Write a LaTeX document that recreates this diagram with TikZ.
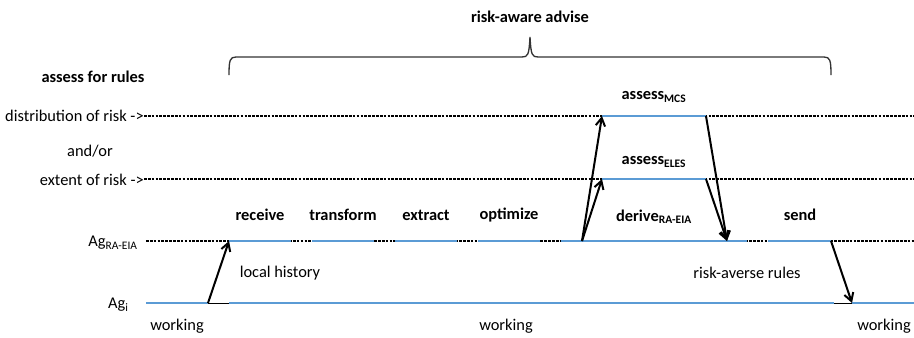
\documentclass[tikz,border=0pt]{standalone}
\usepackage{fontspec}
\setmainfont{Carlito}
\usetikzlibrary{arrows.meta}
\definecolor{lane}{HTML}{5B9BD5}
\begin{document}
\begin{tikzpicture}[x=0.75pt,y=-0.75pt,
  txt/.style={inner sep=0pt,font=\fontsize{12.3}{14}\selectfont},
  btxt/.style={txt,font=\fontsize{12.3}{14}\selectfont\bfseries},
  track/.style={line width=0.9pt,dash pattern=on 2pt off 0.9pt},
  seg/.style={lane,line width=2.2pt},
  link/.style={line width=0.75pt},
  flow/.style={line width=1.5pt,-{Straight Barb[length=6pt,width=7pt,line width=1.5pt]}},
  brace/.style={line width=1pt,black!80}]
\useasboundingbox (0,0) rectangle (914,337);

% row labels
\node[btxt] (title) at (530,17) {risk-aware advise};
\node[btxt] (rules) at (93,77) {assess for rules};
\node[txt,anchor=east] (dist) at (144,116) {distribution of risk ->};
\node[txt] (andor) at (90,151) {and/or};
\node[txt,anchor=east] (ext) at (144,180) {extent of risk ->};
\node[txt,anchor=east] (agra) at (138,243) {Ag\textsubscript{RA-EIA}};
\node[txt,anchor=east] (agi) at (129,305) {Ag\textsubscript{i}};

% tracks
\draw[track] (dist.east |- 0,116) -- (914,116);
\draw[track] (ext.east |- 0,179) -- (914,179);
\draw[track] (146,241) -- (914,241);

% process segments on the RA-EIA track
\coordinate (rcvA) at (229,241); \coordinate (rcvB) at (291,241);
\coordinate (trfA) at (312,241); \coordinate (trfB) at (374,241);
\coordinate (extA) at (395,241); \coordinate (extB) at (457,241);
\coordinate (optA) at (478,241); \coordinate (optB) at (540,241);
\coordinate (derA) at (561,241); \coordinate (derB) at (747,241);
\coordinate (sndA) at (768,241); \coordinate (sndB) at (831,241);
\foreach \a/\b in {rcvA/rcvB,trfA/trfB,extA/extB,optA/optB,derA/derB,sndA/sndB}
  \draw[seg] (\a) -- (\b);

% assessment segments
\coordinate (mcsA) at (602,116); \coordinate (mcsB) at (706,116);
\coordinate (elsA) at (602,179); \coordinate (elsB) at (706,179);
\draw[seg] (mcsA) -- (mcsB);
\draw[seg] (elsA) -- (elsB);

% agent track
\coordinate (ag0) at (146,303); \coordinate (ag1) at (208,303);
\coordinate (ag2) at (229,303); \coordinate (ag3) at (834,303);
\coordinate (ag4) at (852,303); \coordinate (ag5) at (914,303);
\draw[seg] (ag0) -- (ag1);
\draw[link] (ag1) -- (ag2);
\draw[seg] (ag2) -- (ag3);
\draw[link] (ag3) -- (ag4);
\draw[seg] (ag4) -- (ag5);

% segment labels
\node[btxt] (receive) at (260,215) {receive};
\node[btxt] (transform) at (343,215) {transform};
\node[btxt] (extract) at (426,215) {extract};
\node[btxt] (optimize) at (509,215) {optimize};
\node[btxt] (derive) at (654,217) {derive\textsubscript{RA-EIA}};
\node[btxt] (send) at (800,215) {send};
\node[btxt] (mcs) at (654,97) {assess\textsubscript{MCS}};
\node[btxt] (eles) at (654,162) {assess\textsubscript{ELES}};

\node[txt] (hist) at (280,273) {local history};
\node[txt] (avers) at (747,273) {risk-averse rules};
\node[txt] (w1) at (177,326) {working};
\node[txt] (w2) at (506,326) {working};
\node[txt] (w3) at (884,326) {working};

% message flows
\coordinate (up) at (582,241);
\coordinate (down) at (727,241);
\draw[flow] (ag1) -- (rcvA);
\draw[flow] (up) -- (mcsA);
\draw[flow] (up) -- (elsA);
\draw[flow] (mcsB) -- (down);
\draw[flow] (elsB) -- (down);
\draw[flow] (sndB) -- (ag4);

% brace over the advising phase
\draw[brace] (229,75) .. controls (229,60) and (230,57) .. (236,57)
  -- (522,57) .. controls (528,57) and (529,55) .. (530,37)
  .. controls (531,55) and (532,57) .. (538,57)
  -- (824,57) .. controls (830,57) and (831,60) .. (831,75);
\end{tikzpicture}
\end{document}
